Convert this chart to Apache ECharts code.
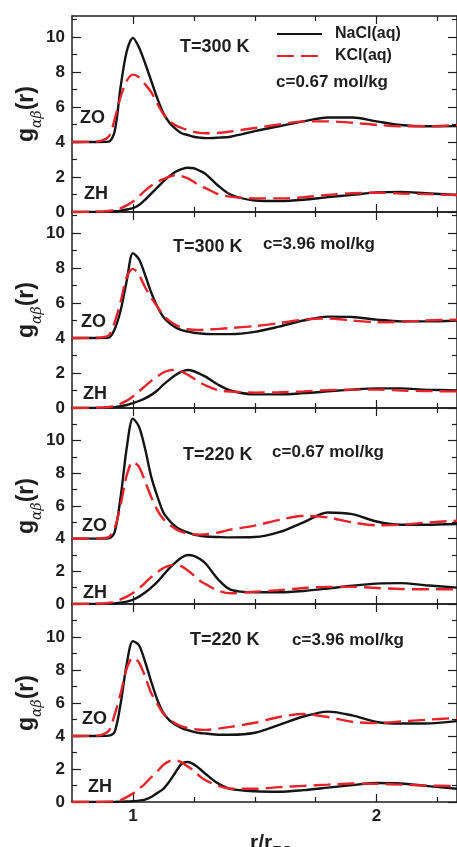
<!DOCTYPE html>
<html>
<head>
<meta charset="utf-8">
<script src="https://cdn.jsdelivr.net/npm/echarts@6/dist/echarts.min.js"></script>
<style>
  html, body { margin: 0; padding: 0; background: #fff; }
  #chart { width: 457px; height: 847px; }
</style>
</head>
<body>
<div id="chart"></div>
<script>
// r / r_ZO sampling points (shared by every curve)
const r = [0.75, 0.85, 0.9, 0.925, 0.95, 0.975, 1.0, 1.025, 1.05, 1.075, 1.1, 1.125, 1.15, 1.175, 1.2, 1.225, 1.25, 1.275, 1.3, 1.35, 1.4, 1.5, 1.6, 1.7, 1.8, 1.9, 2.0, 2.1, 2.2, 2.33];

// g_ZO curves are plotted shifted up by 4 (values below already include the shift)
// Panel 1: T = 300 K, c = 0.67 mol/kg
const zoNaCl_300_067 = [4, 4, 4.02, 4.6, 7.2, 9.2, 9.95, 9.4, 8.5, 7.5, 6.5, 5.65, 5.1, 4.75, 4.5, 4.4, 4.3, 4.25, 4.22, 4.25, 4.3, 4.62, 4.9, 5.18, 5.4, 5.4, 5.18, 4.97, 4.9, 4.91];
const zoKCl_300_067  = [4, 4.02, 4.3, 5.3, 6.6, 7.5, 7.85, 7.7, 7.3, 6.85, 6.2, 5.6, 5.2, 4.95, 4.8, 4.68, 4.58, 4.52, 4.5, 4.52, 4.6, 4.8, 5.0, 5.18, 5.18, 5.1, 4.98, 4.9, 4.9, 4.97];
const zhNaCl_300_067 = [0, 0, 0.02, 0.04, 0.08, 0.14, 0.22, 0.4, 0.7, 1.05, 1.4, 1.75, 2.05, 2.3, 2.45, 2.53, 2.5, 2.35, 2.15, 1.5, 1.0, 0.66, 0.63, 0.7, 0.85, 0.98, 1.12, 1.15, 1.07, 0.97];
const zhKCl_300_067  = [0, 0.02, 0.06, 0.12, 0.22, 0.38, 0.6, 0.9, 1.22, 1.5, 1.72, 1.88, 2.02, 2.1, 2.05, 1.92, 1.72, 1.5, 1.35, 1.02, 0.88, 0.78, 0.78, 0.84, 0.98, 1.07, 1.1, 1.06, 1.02, 0.97];

// Panel 2: T = 300 K, c = 3.96 mol/kg
const zoNaCl_300_396 = [4, 4, 4.02, 4.5, 5.6, 7.3, 8.85, 8.5, 7.6, 6.6, 5.8, 5.2, 4.85, 4.6, 4.45, 4.37, 4.3, 4.26, 4.23, 4.22, 4.22, 4.35, 4.65, 5.0, 5.22, 5.2, 5.05, 4.95, 4.95, 5.0];
const zoKCl_300_396  = [4, 4.02, 4.15, 4.9, 6.1, 7.5, 7.95, 7.6, 6.9, 6.3, 5.8, 5.3, 4.98, 4.75, 4.6, 4.5, 4.47, 4.46, 4.48, 4.52, 4.57, 4.68, 4.85, 5.05, 5.12, 5.0, 4.9, 4.92, 5.0, 5.05];
const zhNaCl_300_396 = [0, 0, 0.02, 0.05, 0.1, 0.17, 0.28, 0.4, 0.55, 0.75, 1.0, 1.33, 1.62, 1.88, 2.08, 2.17, 2.1, 1.95, 1.78, 1.33, 1.0, 0.78, 0.78, 0.85, 0.95, 1.05, 1.12, 1.12, 1.05, 1.0];
const zhKCl_300_396  = [0, 0.02, 0.06, 0.12, 0.25, 0.42, 0.66, 0.95, 1.25, 1.55, 1.8, 2.03, 2.15, 2.18, 2.08, 1.9, 1.68, 1.45, 1.28, 1.02, 0.94, 0.88, 0.9, 0.95, 1.02, 1.05, 1.05, 1.0, 0.97, 0.95];

// Panel 3: T = 220 K, c = 0.67 mol/kg
const zoNaCl_220_067 = [4, 4, 4.02, 4.4, 6.6, 9.6, 11.35, 10.85, 9.5, 7.8, 6.6, 5.6, 5.1, 4.75, 4.52, 4.38, 4.25, 4.18, 4.13, 4.1, 4.08, 4.1, 4.4, 5.0, 5.6, 5.5, 5.05, 4.85, 4.85, 4.9];
const zoKCl_220_067  = [4, 4.02, 4.1, 4.65, 6.1, 7.9, 8.7, 8.4, 7.5, 6.55, 5.75, 5.2, 4.85, 4.6, 4.42, 4.32, 4.27, 4.25, 4.27, 4.38, 4.55, 4.8, 5.15, 5.4, 5.3, 5.0, 4.82, 4.85, 4.98, 5.1];
const zhNaCl_220_067 = [0, 0, 0.02, 0.04, 0.08, 0.15, 0.26, 0.45, 0.7, 1.0, 1.35, 1.78, 2.2, 2.55, 2.85, 3.0, 2.95, 2.75, 2.45, 1.5, 0.88, 0.72, 0.72, 0.8, 0.95, 1.12, 1.25, 1.28, 1.15, 1.0];
const zhKCl_220_067  = [0, 0.02, 0.06, 0.14, 0.28, 0.45, 0.67, 0.95, 1.3, 1.65, 1.95, 2.2, 2.35, 2.4, 2.3, 2.05, 1.75, 1.42, 1.2, 0.82, 0.66, 0.75, 0.85, 0.98, 1.05, 1.05, 0.98, 0.92, 0.9, 0.9];

// Panel 4: T = 220 K, c = 3.96 mol/kg
const zoNaCl_220_396 = [4, 4, 4.02, 4.25, 6.0, 8.4, 9.75, 9.5, 8.5, 7.3, 6.2, 5.4, 4.95, 4.68, 4.48, 4.35, 4.25, 4.18, 4.15, 4.08, 4.08, 4.2, 4.68, 5.18, 5.48, 5.25, 4.85, 4.76, 4.76, 4.9];
const zoKCl_220_396  = [4, 4.02, 4.3, 5.3, 6.6, 8.1, 8.75, 8.45, 7.6, 6.6, 5.95, 5.35, 5.0, 4.75, 4.58, 4.48, 4.42, 4.38, 4.37, 4.45, 4.55, 4.8, 5.15, 5.33, 5.15, 4.86, 4.78, 4.88, 4.98, 5.1];
const zhNaCl_220_396 = [0, 0, 0, 0.01, 0.02, 0.03, 0.05, 0.08, 0.15, 0.3, 0.55, 0.8, 1.25, 1.8, 2.32, 2.42, 2.28, 2.0, 1.68, 1.12, 0.8, 0.65, 0.62, 0.72, 0.87, 1.02, 1.15, 1.12, 0.98, 0.8];
const zhKCl_220_396  = [0, 0, 0.02, 0.05, 0.12, 0.3, 0.51, 0.8, 1.12, 1.5, 1.85, 2.25, 2.48, 2.52, 2.4, 2.15, 1.9, 1.55, 1.3, 0.98, 0.82, 0.8, 0.9, 0.98, 1.05, 1.12, 1.1, 1.05, 1.0, 0.96];

// Tick values
const xMajorTicks = [1, 2];
const xMinorTicks = [1.25, 1.5, 1.75, 2.25];
const yMajorTicks = [0, 2, 4, 6, 8, 10];
const yMinorTicks = [1, 3, 5, 7, 9, 11];

// Panel annotations
const tempLabels = ['T=300 K', 'T=300 K', 'T=220 K', 'T=220 K'];
const concLabels = ['c=0.67 mol/kg', 'c=3.96 mol/kg', 'c=0.67 mol/kg', 'c=3.96 mol/kg'];
const seriesNames = ['NaCl(aq)', 'KCl(aq)'];

const panels = [
  { zoNaCl: zoNaCl_300_067, zoKCl: zoKCl_300_067, zhNaCl: zhNaCl_300_067, zhKCl: zhKCl_300_067 },
  { zoNaCl: zoNaCl_300_396, zoKCl: zoKCl_300_396, zhNaCl: zhNaCl_300_396, zhKCl: zhKCl_300_396 },
  { zoNaCl: zoNaCl_220_067, zoKCl: zoKCl_220_067, zhNaCl: zhNaCl_220_067, zhKCl: zhKCl_220_067 },
  { zoNaCl: zoNaCl_220_396, zoKCl: zoKCl_220_396, zhNaCl: zhNaCl_220_396, zhKCl: zhKCl_220_396 }
];

// Layout
const FONT = '"Liberation Sans", Arial, Helvetica, sans-serif';
const INK = '#1e1e1e';
const BLACK = '#141414';
const RED = '#e5232b';
const X_MIN = 0.75, X_MAX = 2.33;
const gridTops = [16, 212, 408, 604];
const gridHeights = [196, 196, 196, 198];
const yMaxes = [11.2, 11.2, 12, 12];
const ZO_LABEL = [[80, 118], [81, 322], [82, 526], [82, 719]];
const ZH_LABEL = [[84, 194], [83, 394], [83, 593], [88, 787]];
const T_LABEL = [[180, 47], [173, 247], [183, 455], [190, 640]];
const C_LABEL = [[276, 82], [263, 244], [272, 452], [292, 640]];

const axisLineStyle = { color: INK, width: 1.5 };
const tickStyle = { color: INK, width: 1.2 };

const grids = [], xAxes = [], yAxes = [], series = [], graphics = [];

panels.forEach((p, gi) => {
  grids.push({ left: 72, right: -5, top: gridTops[gi], height: gridHeights[gi], containLabel: false });

  const xBase = { gridIndex: gi, type: 'value', min: X_MIN, max: X_MAX, splitLine: { show: false } };
  // bottom: major ticks with labels on the last panel
  xAxes.push(Object.assign({}, xBase, {
    position: 'bottom',
    axisLine: { show: true, onZero: false, lineStyle: axisLineStyle },
    axisTick: { show: true, inside: true, length: 8, customValues: xMajorTicks, lineStyle: tickStyle },
    axisLabel: { show: gi === 3, customValues: xMajorTicks, margin: 6, fontSize: 17, fontWeight: 'bold', fontFamily: FONT, color: INK }
  }));
  xAxes.push(Object.assign({}, xBase, {
    position: 'bottom',
    axisLine: { show: false, onZero: false },
    axisTick: { show: true, inside: true, length: 5, customValues: xMinorTicks, lineStyle: tickStyle },
    axisLabel: { show: false }
  }));
  xAxes.push(Object.assign({}, xBase, {
    position: 'top',
    axisLine: { show: true, onZero: false, lineStyle: axisLineStyle },
    axisTick: { show: true, inside: true, length: 8, customValues: xMajorTicks, lineStyle: tickStyle },
    axisLabel: { show: false }
  }));
  xAxes.push(Object.assign({}, xBase, {
    position: 'top',
    axisLine: { show: false, onZero: false },
    axisTick: { show: true, inside: true, length: 5, customValues: xMinorTicks, lineStyle: tickStyle },
    axisLabel: { show: false }
  }));

  const yBase = { gridIndex: gi, type: 'value', min: 0, max: yMaxes[gi], splitLine: { show: false } };
  yAxes.push(Object.assign({}, yBase, {
    position: 'left',
    axisLine: { show: true, onZero: false, lineStyle: axisLineStyle },
    axisTick: { show: true, inside: true, length: 9, customValues: yMajorTicks, lineStyle: tickStyle },
    axisLabel: { show: true, customValues: yMajorTicks, margin: 7, fontSize: 17, fontWeight: 'bold', fontFamily: FONT, color: INK }
  }));
  yAxes.push(Object.assign({}, yBase, {
    position: 'left',
    axisLine: { show: false, onZero: false },
    axisTick: { show: true, inside: true, length: 5, customValues: yMinorTicks, lineStyle: tickStyle },
    axisLabel: { show: false }
  }));
  yAxes.push(Object.assign({}, yBase, {
    position: 'right',
    axisLine: { show: true, onZero: false, lineStyle: axisLineStyle },
    axisTick: { show: true, inside: true, length: 9, customValues: yMajorTicks, lineStyle: tickStyle },
    axisLabel: { show: false }
  }));
  yAxes.push(Object.assign({}, yBase, {
    position: 'right',
    axisLine: { show: false, onZero: false },
    axisTick: { show: true, inside: true, length: 5, customValues: yMinorTicks, lineStyle: tickStyle },
    axisLabel: { show: false }
  }));

  const xi = gi * 4, yi = gi * 4;
  const mk = (name, values, color, dashed, z) => ({
    name, type: 'line', xAxisIndex: xi, yAxisIndex: yi,
    data: r.map((x, i) => [x, values[i]]),
    smooth: 0.3, symbol: 'none', showSymbol: false, clip: true, z,
    lineStyle: { color, width: 2.4, type: dashed ? [17, 7] : 'solid', cap: 'butt' },
    itemStyle: { color },
    emphasis: { disabled: true }, silent: true
  });
  series.push(mk(seriesNames[0], p.zoNaCl, BLACK, false, 2));
  series.push(mk(seriesNames[0], p.zhNaCl, BLACK, false, 2));
  series.push(mk(seriesNames[1], p.zoKCl, RED, true, 3));
  series.push(mk(seriesNames[1], p.zhKCl, RED, true, 3));

  const textStyle = (size) => ({ fontSize: size, fontWeight: 'bold', fontFamily: FONT, fill: INK, align: 'left', verticalAlign: 'middle' });
  graphics.push({ type: 'text', x: ZO_LABEL[gi][0], y: ZO_LABEL[gi][1], style: Object.assign({ text: 'ZO' }, textStyle(18)) });
  graphics.push({ type: 'text', x: ZH_LABEL[gi][0], y: ZH_LABEL[gi][1], style: Object.assign({ text: 'ZH' }, textStyle(18)) });
  graphics.push({ type: 'text', x: T_LABEL[gi][0], y: T_LABEL[gi][1], style: Object.assign({ text: tempLabels[gi] }, textStyle(18)) });
  graphics.push({ type: 'text', x: C_LABEL[gi][0], y: C_LABEL[gi][1], style: Object.assign({ text: concLabels[gi] }, textStyle(17)) });

  // rotated y-axis title g_αβ(r), centred on the panel
  graphics.push({
    type: 'text', x: 27, y: gridTops[gi] + gridHeights[gi] / 2, rotation: Math.PI / 2,
    style: {
      text: '{g|g}{s|αβ}{g|(r)}', align: 'center', verticalAlign: 'middle',
      rich: {
        g: { fontSize: 23, fontWeight: 'bold', fontFamily: FONT, fill: INK, lineHeight: 26 },
        s: { fontSize: 14, fontStyle: 'italic', fontFamily: '"DejaVu Serif", serif', fill: INK, verticalAlign: 'bottom', lineHeight: 34 }
      }
    }
  });
});

// x-axis title r/r_ZO
graphics.push({
  type: 'text', x: 250, y: 843,
  style: {
    text: '{m|r/r}{s|ZO}', align: 'left', verticalAlign: 'middle',
    rich: {
      m: { fontSize: 21, fontWeight: 'bold', fontFamily: FONT, fill: INK, lineHeight: 22 },
      s: { fontSize: 15, fontWeight: 'bold', fontFamily: FONT, fill: INK, verticalAlign: 'bottom', lineHeight: 32 }
    }
  }
});

const chart = echarts.init(document.getElementById('chart'), null, { renderer: 'canvas' });
chart.setOption({
  animation: false,
  backgroundColor: '#fff',
  grid: grids,
  xAxis: xAxes,
  yAxis: yAxes,
  legend: {
    data: seriesNames, orient: 'vertical', left: 271, top: 21,
    itemWidth: 45, itemHeight: 14, itemGap: 6, selectedMode: false,
    itemStyle: { opacity: 0 },
    textStyle: { fontSize: 16, fontWeight: 'bold', fontFamily: FONT, color: INK, padding: [0, 0, 0, 8] }
  },
  series: series,
  graphic: graphics
});
</script>
</body>
</html>
